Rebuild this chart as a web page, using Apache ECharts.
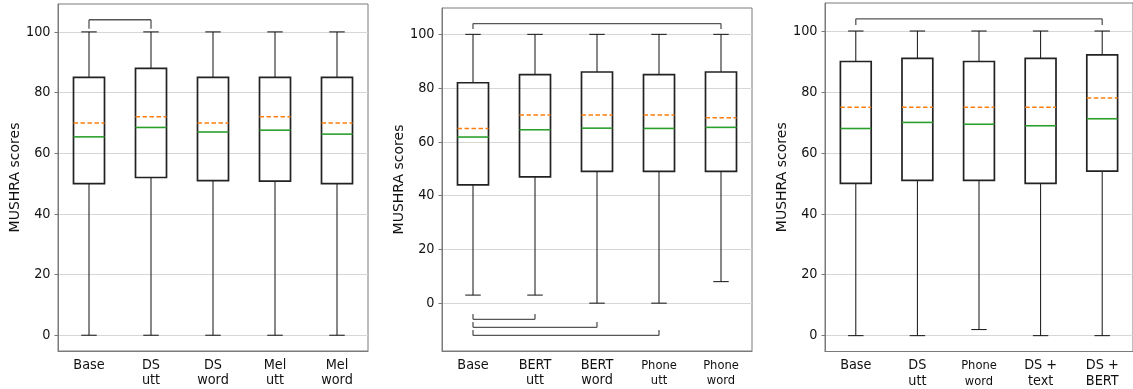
<!DOCTYPE html>
<html>
<head>
<meta charset="utf-8">
<script src="https://cdn.jsdelivr.net/npm/echarts@6/dist/echarts.min.js"></script>
<style>
  html, body { margin: 0; background: #fff; }
  #chart { width: 1133px; height: 389px; }
</style>
</head>
<body>
<div id="chart"></div>
<script>
// categories of each panel
var cats1 = ['Base', 'DS\nutt', 'DS\nword', 'Mel\nutt', 'Mel\nword']
var cats2 = ['Base', 'BERT\nutt', 'BERT\nword', 'Phone\nutt', 'Phone\nword']
var cats3 = ['Base', 'DS\nutt', 'Phone\nword', 'DS +\ntext', 'DS +\nBERT']

// per box: [low whisker, q1, median, q3, high whisker, mean]
var stats1 = [
  [0, 50, 65.4, 85, 100, 70],
  [0, 52, 68.5, 88, 100, 72],
  [0, 51, 67, 85, 100, 70],
  [0, 50.8, 67.6, 85, 100, 72],
  [0, 50, 66.3, 85, 100, 70]
]
var stats2 = [
  [3, 44, 61.8, 82, 100, 65],
  [3, 47, 64.5, 85, 100, 70],
  [0, 49, 65.1, 86, 100, 70],
  [0, 49, 65, 85, 100, 70],
  [8, 49, 65.4, 86, 100, 69]
]
var stats3 = [
  [0, 50, 68, 90, 100, 75],
  [0, 51, 70, 91, 100, 75],
  [2, 51, 69.4, 90, 100, 75],
  [0, 50, 68.9, 91, 100, 75],
  [0, 54, 71.2, 92.2, 100, 78]
]

// significance brackets: [from, to, line value, tip value]
var brackets1 = [[0, 1, 104, 101]]
var brackets2 = [[0, 4, 104, 102], [0, 1, -6, -4], [0, 2, -9, -7], [0, 3, -12, -10]]
var brackets3 = [[0, 4, 104, 102]]

var yTicks = [0, 20, 40, 60, 80, 100]
var yRanges = [[-5.2, 109.2], [-17.8, 109.8], [-5.2, 109.2]]

var panels = [
  { cats: cats1, stats: stats1, brackets: brackets1, grid: { left: 58, top: 4, width: 310, height: 347 } },
  { cats: cats2, stats: stats2, brackets: brackets2, grid: { left: 442, top: 8, width: 310, height: 343 } },
  { cats: cats3, stats: stats3, brackets: brackets3, grid: { left: 825, top: 3, width: 310, height: 349 } }
]

var textColor = '#111'
var frameColor = '#7a7a7a'
var tickFont = '"DejaVu Sans Condensed", "DejaVu Sans"'

function renderBox (params, api) {
  var i = api.value(0)
  var band = api.size([1, 0])[0]
  var half = band * 0.25
  var cap = band * 0.125
  var x = api.coord([i, 0])[0]
  var y = function (k) { return api.coord([i, api.value(k)])[1] }
  var lo = y(1), q1 = y(2), med = y(3), q3 = y(4), hi = y(5), mean = y(6)
  var thin = { stroke: '#111', lineWidth: 1 }
  return {
    type: 'group',
    children: [
      { type: 'line', shape: { x1: x, y1: lo, x2: x, y2: q1 }, style: thin },
      { type: 'line', shape: { x1: x, y1: q3, x2: x, y2: hi }, style: thin },
      { type: 'line', shape: { x1: x - cap, y1: lo, x2: x + cap, y2: lo }, style: thin },
      { type: 'line', shape: { x1: x - cap, y1: hi, x2: x + cap, y2: hi }, style: thin },
      { type: 'rect', shape: { x: x - half, y: q3, width: half * 2, height: q1 - q3 },
        style: { fill: 'none', stroke: '#222', lineWidth: 1.7 } },
      { type: 'line', shape: { x1: x - half, y1: mean, x2: x + half, y2: mean },
        style: { stroke: '#ff7f0e', lineWidth: 1.5, lineDash: [4.5, 2.5] } },
      { type: 'line', shape: { x1: x - half, y1: med, x2: x + half, y2: med },
        style: { stroke: '#2ca02c', lineWidth: 1.6 } }
    ]
  }
}

function renderBracket (params, api) {
  var a = api.coord([api.value(0), api.value(2)])
  var b = api.coord([api.value(1), api.value(2)])
  var tip = api.coord([0, api.value(3)])[1]
  var st = { stroke: '#555', lineWidth: 1.3 }
  return {
    type: 'group',
    children: [
      { type: 'line', shape: { x1: a[0], y1: a[1], x2: b[0], y2: b[1] }, style: st },
      { type: 'line', shape: { x1: a[0], y1: a[1], x2: a[0], y2: tip }, style: st },
      { type: 'line', shape: { x1: b[0], y1: b[1], x2: b[0], y2: tip }, style: st }
    ]
  }
}

var grids = [], xAxes = [], yAxes = [], series = []
panels.forEach(function (p, n) {
  grids.push(Object.assign({ show: true, borderColor: frameColor, borderWidth: 1, backgroundColor: 'transparent' }, p.grid))
  xAxes.push({
    type: 'category',
    gridIndex: n,
    data: p.cats.map(function (c) {
      // the "Phone" labels are set a little smaller in the original
      return c.indexOf('Phone') === 0
        ? { value: c, textStyle: { fontSize: 12.8, lineHeight: 15.5, fontFamily: tickFont, color: textColor } }
        : c
    }),
    axisLine: { onZero: false, lineStyle: { color: frameColor } },
    axisTick: { alignWithLabel: true, length: 3.5, lineStyle: { color: frameColor } },
    axisLabel: { color: textColor, fontSize: 14.3, lineHeight: 15.5, margin: 6.5, fontFamily: tickFont },
    splitLine: { show: false }
  })
  yAxes.push({
    type: 'value',
    gridIndex: n,
    min: yRanges[n][0],
    max: yRanges[n][1],
    name: 'MUSHRA scores',
    nameLocation: 'middle',
    nameGap: 36,
    nameTextStyle: { color: textColor, fontSize: 14, fontFamily: 'DejaVu Sans' },
    axisLine: { show: true, lineStyle: { color: frameColor } },
    axisTick: { show: true, length: 3.5, customValues: yTicks, lineStyle: { color: frameColor } },
    axisLabel: { color: textColor, fontSize: 14.3, margin: 7.5, customValues: yTicks, fontFamily: tickFont },
    splitLine: { show: true, lineStyle: { color: '#d6d6d6', width: 1 } }
  })
  series.push({
    type: 'custom',
    xAxisIndex: n,
    yAxisIndex: n,
    renderItem: renderBox,
    encode: { x: 0, y: [1, 2, 3, 4, 5, 6] },
    data: p.stats.map(function (s, i) { return [i].concat(s) }),
    silent: true,
    z: 3
  })
  series.push({
    type: 'custom',
    xAxisIndex: n,
    yAxisIndex: n,
    renderItem: renderBracket,
    encode: { x: [0, 1], y: [2, 3] },
    data: p.brackets,
    silent: true,
    z: 3
  })
})

var myChart = echarts.init(document.getElementById('chart'), null, { renderer: 'canvas' })
myChart.setOption({
  animation: false,
  textStyle: { fontFamily: 'DejaVu Sans' },
  grid: grids,
  xAxis: xAxes,
  yAxis: yAxes,
  series: series
})
</script>
</body>
</html>
